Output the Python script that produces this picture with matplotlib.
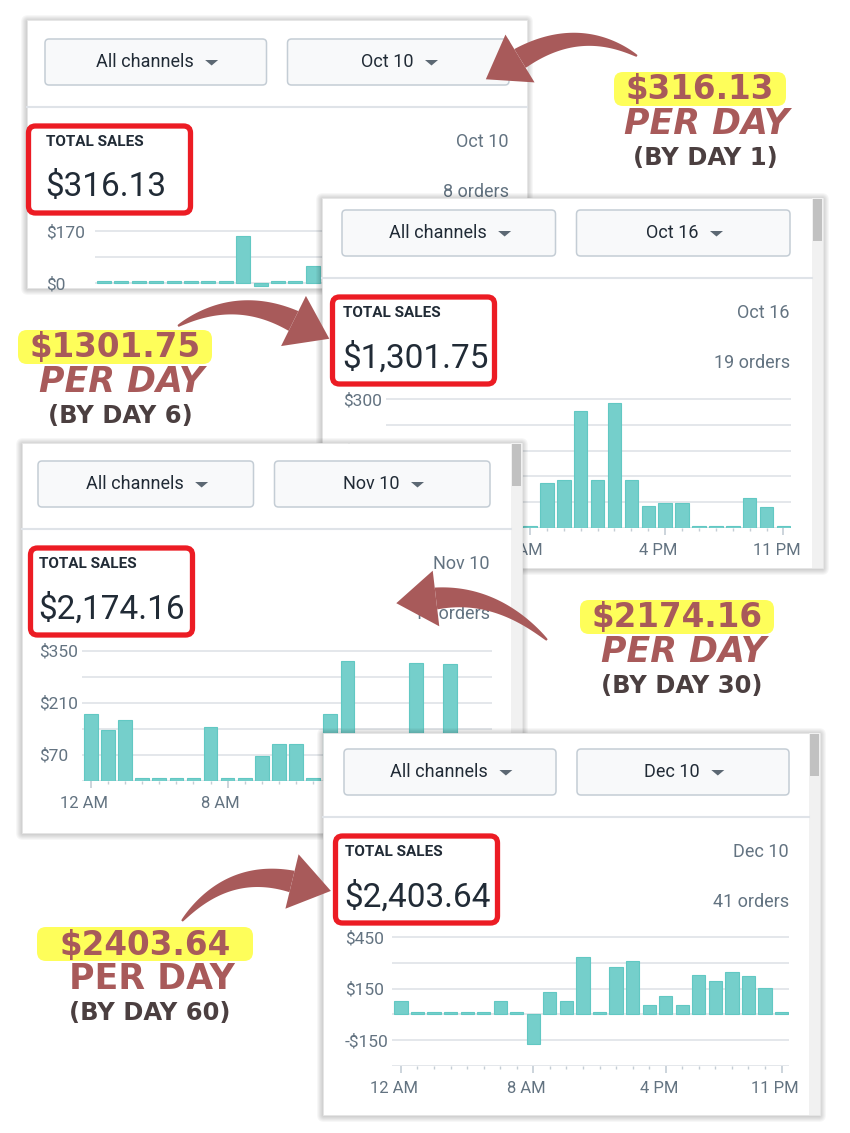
import numpy as np
import matplotlib
matplotlib.use('Agg')
import matplotlib.pyplot as plt
import matplotlib.transforms as mtransforms
from matplotlib.patches import FancyBboxPatch, Rectangle, Polygon

W, H = 850, 1133

# hourly total sales ($), hour 0 = 12 AM
hour_ticks = [0, 8, 16, 23]
hour_labels = ['12 AM', '8 AM', '4 PM', '11 PM']

oct10_sales = [0, 0, 0, 0, 0, 0, 0, 0, 154, -10, 0, 0, 56,
               0, 0, 0, 0, 0, 0, 0, 0, 0, 0, 0]
oct16_sales = [0, 0, 0, 0, 0, 0, 0, 0, 0, 105, 112, 272, 112, 291,
               112, 51, 58, 58, 0, 0, 0, 70, 49, 0]
nov10_sales = [179, 137, 163, 0, 0, 0, 0, 145, 0, 0, 67, 100, 100, 0,
               179, 323, 0, 0, 0, 318, 0, 315, 0, 0]
dec10_sales = [80, 0, 0, 0, 0, 0, 80, 0, -170, 132, 80, 334, 0, 275,
               312, 54, 109, 54, 230, 193, 246, 223, 154, 0]

oct10_grid = [0, 85, 170]
oct10_ylab = ['$0', '', '$170']
oct16_grid = [0, 60, 120, 180, 240, 300]
oct16_ylab = ['', '$60', '', '$180', '', '$300']
nov10_grid = [0, 70, 140, 210, 280, 350]
nov10_ylab = ['', '$70', '', '$210', '', '$350']
dec10_grid = [-300, -150, 0, 150, 300, 450]
dec10_ylab = ['', '-$150', '', '$150', '', '$450']

dates = ['Oct 10', 'Oct 16', 'Nov 10', 'Dec 10']
totals = ['$316.13', '$1,301.75', '$2,174.16', '$2,403.64']
orders = ['8 orders', '19 orders', '17 orders', '41 orders']
callout_values = ['$316.13', '$1301.75', '$2174.16', '$2403.64']
callout_days = ['(BY DAY 1)', '(BY DAY 6)', '(BY DAY 30)', '(BY DAY 60)']

ARROW = '#a85a5a'
DARK = '#212b36'
GREY = '#637381'

plt.rcParams['font.family'] = ['Roboto', 'DejaVu Sans']
fig = plt.figure(figsize=(W / 100, H / 100), dpi=100)
fig.patch.set_facecolor('white')
renderer = fig.canvas.get_renderer()


def layer(z):
    ax = fig.add_axes([0, 0, 1, 1], zorder=z)
    ax.set_xlim(0, W)
    ax.set_ylim(H, 0)
    ax.axis('off')
    return ax


def draw_card(ax, box, cl, cr, ts_y, red_x, date, total, n_orders, scroll):
    x0, y0, x1, y1 = box
    # soft shadow
    for k in range(7, 0, -1):
        ax.add_patch(FancyBboxPatch((x0 - k + 1, y0 - k + 2), x1 - x0 + 2 * k - 2,
                                    y1 - y0 + 2 * k - 2,
                                    boxstyle='round,pad=0,rounding_size=%d' % k,
                                    fc='black', ec='none', alpha=0.03))
    ax.add_patch(Rectangle((x0, y0), x1 - x0, y1 - y0, fc='white', ec='#e6e6e6', lw=0.6))
    if scroll:
        ax.add_patch(Rectangle((x1 - 11, y0), 11, y1 - y0, fc='#f1f1f1', ec='none'))
        ax.add_patch(Rectangle((x1 - 10, y0 + 1), 9, 42, fc='#c1c1c1', ec='none'))
    ddw = (cr - cl + 1 - 21) / 2
    dd_top = ts_y - 103
    for dx, label in [(cl - 1, 'All channels'), (cr - ddw, date)]:
        ax.add_patch(FancyBboxPatch((dx, dd_top), ddw, 46,
                                    boxstyle='round,pad=0,rounding_size=4',
                                    fc='#f8f9fa', ec='#c4cdd5', lw=1.1))
        t = ax.text(dx + ddw / 2 - 11, dd_top + 23, label, ha='center', va='center',
                    fontsize=13, color=DARK)
        bb = t.get_window_extent(renderer)
        cx = bb.x1 + 18
        ax.add_patch(Polygon([(cx - 6.5, dd_top + 21), (cx + 6.5, dd_top + 21),
                              (cx, dd_top + 26.5)], fc='#5c6873', ec='none'))
    sep = ts_y - 35
    ax.plot([x0, x1 - (11 if scroll else 0)], [sep, sep], color='#dfe3e8', lw=1.5)
    ax.text(cl, ts_y, 'TOTAL SALES', ha='left', va='center', fontsize=11,
            fontweight='bold', color=DARK)
    ax.text(cl - 1, ts_y + 45, total, ha='left', va='center', fontsize=24, color=DARK)
    ax.text(cr, ts_y, date, ha='right', va='center', fontsize=13, color=GREY)
    ax.text(cr, ts_y + 50, n_orders, ha='right', va='center', fontsize=13, color=GREY)
    ax.add_patch(FancyBboxPatch((red_x + 2.5, ts_y - 16), 162, 87,
                                boxstyle='round,pad=0,rounding_size=7',
                                fc='none', ec='#ec1c24', lw=3.8))


def chart(z, vals, grid, ylab, bar0, pitch, top_px, top_val, zero_px, label_x,
          bottom_px=None, ylo=0.0, show_x=True):
    scale = (zero_px - top_px) / top_val
    if bottom_px is None:
        bottom_px = zero_px - ylo * scale
    else:
        ylo = -(bottom_px - zero_px) / scale
    yhi = top_val + 2 / scale
    xl, xr = -0.52, 23.45
    left = bar0 + (xl + 0.4) * pitch
    right = bar0 + (xr + 0.4) * pitch
    top = top_px - 2
    ax = fig.add_axes([left / W, 1 - bottom_px / H, (right - left) / W,
                       (bottom_px - top) / H], zorder=z)
    ax.patch.set_visible(False)
    ax.set_xlim(xl, xr)
    ax.set_ylim(ylo, yhi)
    v = np.array(vals, dtype=float)
    v = np.where(v == 0, 2.5 / scale, v)
    ax.bar(np.arange(24), v, width=0.8, color='#75cfcb', edgecolor='#62c8c3',
           linewidth=0.8, zorder=3)
    for s in ax.spines.values():
        s.set_visible(False)
    ax.set_yticks(grid)
    ax.set_yticklabels(ylab, ha='left')
    ax.grid(axis='y', color='#dfe3e8', lw=1.2)
    ax.set_axisbelow(True)
    ax.tick_params(axis='y', length=0, pad=(left - label_x) * 0.72,
                   labelsize=12.5, labelcolor=GREY)
    if show_x:
        ax.set_xticks(hour_ticks)
        ax.set_xticklabels(hour_labels)
        ax.set_xticks(np.arange(24), minor=True)
        ax.tick_params(axis='x', which='major', length=5, width=1.2, color='#c4cdd5',
                       pad=6, labelsize=12, labelcolor=GREY)
        ax.tick_params(axis='x', which='minor', length=2.5, width=1, color='#c4cdd5')
        shift = mtransforms.ScaledTranslation(-7 / 100, 0, fig.dpi_scale_trans)
        for lab in ax.get_xticklabels():
            lab.set_transform(lab.get_transform() + shift)
    else:
        ax.tick_params(axis='x', which='both', bottom=False, labelbottom=False)
    return ax


def curved_arrow(ax, p0, c, p2, w0=2, w1=22, head_w=56, head_len=40):
    p0, c, p2 = np.array(p0, float), np.array(c, float), np.array(p2, float)
    t = np.linspace(0, 1, 80)[:, None]
    pts = (1 - t) ** 2 * p0 + 2 * (1 - t) * t * c + t ** 2 * p2
    d = 2 * (1 - t) * (c - p0) + 2 * t * (p2 - c)
    d = d / np.linalg.norm(d, axis=1)[:, None]
    n = np.hstack([-d[:, 1:2], d[:, 0:1]])
    w = (w0 + (w1 - w0) * t[:, 0] ** 0.8)[:, None]
    shaft = np.vstack([pts + n * w / 2, (pts - n * w / 2)[::-1]])
    ax.add_patch(Polygon(shaft, closed=True, fc=ARROW, ec='none'))
    tip = p2 + d[-1] * head_len
    ax.add_patch(Polygon([p2 + n[-1] * head_w / 2, tip, p2 - n[-1] * head_w / 2],
                         closed=True, fc=ARROW, ec='none'))


def callout(ax, cx, y, box_x, value, day, italic=True):
    ax.add_patch(FancyBboxPatch((box_x[0], y - 17), box_x[1] - box_x[0], 34,
                                boxstyle='round,pad=0,rounding_size=9',
                                fc='#fefe5a', ec='none'))
    ax.text(cx, y + 1, value, ha='center', va='center', fontsize=23.5,
            fontweight='bold', color=ARROW, family='DejaVu Sans')
    ax.text(cx + 7, y + 35, 'PER DAY', ha='center', va='center', fontsize=25,
            fontweight='bold', style='italic' if italic else 'normal',
            color=ARROW, family='DejaVu Sans')
    ax.text(cx + 5, y + 69, day, ha='center', va='center', fontsize=17.5,
            fontweight='bold', color='#4b3f40', family='DejaVu Sans')


# card 1 - Oct 10
a = layer(1)
draw_card(a, (27, 20, 527, 288), 46, 509, 142, 26, dates[0], totals[0], orders[0], False)
chart(2, oct10_sales, oct10_grid, oct10_ylab, 97, 17.4, 231, 170, 283, 46,
      bottom_px=288, show_x=False)
a = layer(3)
curved_arrow(a, (637, 56), (580, 22), (520, 58.5))
callout(a, 700, 89, (614, 786), callout_values[0], callout_days[0])

# card 2 - Oct 16
a = layer(4)
draw_card(a, (322, 198, 823, 568), 343, 790, 313, 330, dates[1], totals[1], orders[1], True)
chart(5, oct16_sales, oct16_grid, oct16_ylab, 388, 16.9, 399, 300, 528, 343)
a = layer(6)
curved_arrow(a, (178, 326), (235, 292), (293.5, 321))
callout(a, 115, 347, (18, 212), callout_values[1], callout_days[1])

# card 3 - Nov 10
a = layer(7)
draw_card(a, (22, 443, 522, 833), 39, 490, 564, 28, dates[2], totals[2], orders[2], True)
chart(8, nov10_sales, nov10_grid, nov10_ylab, 84, 17.1, 650.7, 350, 780.7, 39)
a = layer(9)
curved_arrow(a, (547, 640), (495.5, 591.5), (436, 598.5))
callout(a, 677, 617, (580, 774), callout_values[2], callout_days[2])

# card 4 - Dec 10
a = layer(10)
draw_card(a, (323, 733, 820, 1115), 345, 789, 852, 333, dates[3], totals[3], orders[3], True)
chart(11, dec10_sales, dec10_grid, dec10_ylab, 394.3, 16.55, 937, 450, 1014.3, 345,
      ylo=-300)
a = layer(12)
curved_arrow(a, (182, 921), (228, 866), (292, 881.5))
callout(a, 145, 944, (37, 253), callout_values[3], callout_days[3], italic=False)

fig.savefig('out.png', dpi=100, facecolor='white')
